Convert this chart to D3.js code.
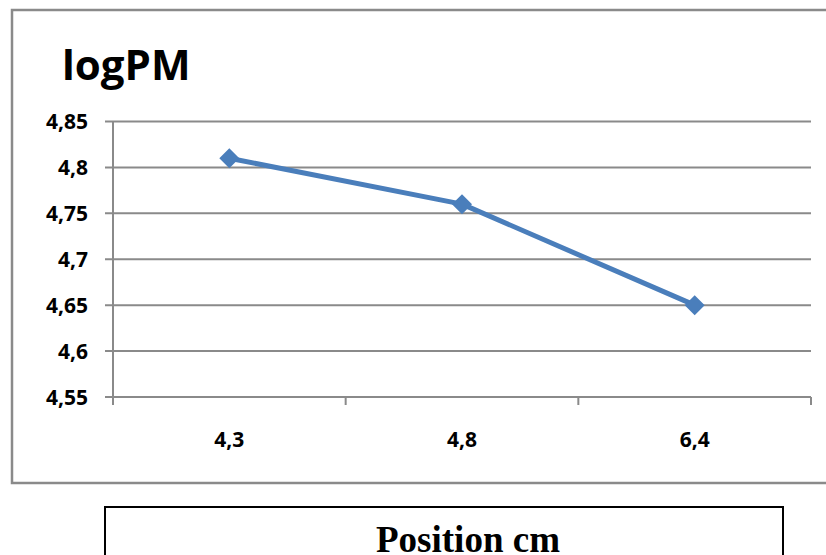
<!DOCTYPE html>
<html>
<head>
<meta charset="utf-8">
<script src="https://cdn.jsdelivr.net/npm/d3@7"></script>
<style>
  html, body { margin: 0; padding: 0; background: #fff; }
  svg { display: block; }
</style>
</head>
<body>
<svg id="chart" width="826" height="555"></svg>
<script>
const categories = ["4,3", "4,8", "6,4"];
const values = [4.81, 4.76, 4.65];
const yTicks = [4.55, 4.6, 4.65, 4.7, 4.75, 4.8, 4.85];
const yTickLabels = ["4,55", "4,6", "4,65", "4,7", "4,75", "4,8", "4,85"];
const titleText = "logPM";
const xTitleText = "Position cm";

const svg = d3.select("#chart");
const plot = { left: 113, right: 811, top: 121.5, bottom: 397 };
const gridColor = "#8a8a8a";
const lineColor = "#4a7ebb";
const sansFont = "'Open Sans', 'Liberation Sans', Arial, sans-serif";

// outer chart border
svg.append("rect")
  .attr("x", 12).attr("y", 10).attr("width", 840).attr("height", 473)
  .attr("fill", "none").attr("stroke", gridColor).attr("stroke-width", 2.5);

// title
svg.append("text")
  .attr("x", 62).attr("y", 80)
  .attr("font-family", sansFont)
  .attr("font-weight", "bold").attr("font-size", 42)
  .attr("fill", "#000").text(titleText);

const x = d3.scaleBand().domain(categories).range([plot.left, plot.right]).padding(0);
const y = d3.scaleLinear().domain([4.55, 4.85]).range([plot.bottom, plot.top]);

// gridlines
svg.append("g").selectAll("line").data(yTicks).join("line")
  .attr("x1", plot.left - 8).attr("x2", plot.right)
  .attr("y1", d => y(d)).attr("y2", d => y(d))
  .attr("stroke", gridColor).attr("stroke-width", 2);

// y axis line
svg.append("line")
  .attr("x1", plot.left).attr("x2", plot.left)
  .attr("y1", plot.top).attr("y2", plot.bottom + 8)
  .attr("stroke", gridColor).attr("stroke-width", 2);

// y labels
svg.append("g").selectAll("text").data(yTicks).join("text")
  .attr("x", 88).attr("y", d => y(d)).attr("dy", "0.36em")
  .attr("text-anchor", "end")
  .attr("font-family", sansFont)
  .attr("font-weight", "bold").attr("font-size", 21)
  .text((d, i) => yTickLabels[i]);

// x tick marks at band boundaries
const bounds = categories.map(c => x(c)).concat([x(categories[categories.length - 1]) + x.bandwidth()]);
svg.append("g").selectAll("line").data(bounds.slice(1)).join("line")
  .attr("x1", d => d).attr("x2", d => d)
  .attr("y1", plot.bottom).attr("y2", plot.bottom + 8)
  .attr("stroke", gridColor).attr("stroke-width", 2);

// x labels
svg.append("g").selectAll("text").data(categories).join("text")
  .attr("x", d => x(d) + x.bandwidth() / 2).attr("y", 447)
  .attr("text-anchor", "middle")
  .attr("font-family", sansFont)
  .attr("font-weight", "bold").attr("font-size", 21)
  .text(d => d);

// line
const line = d3.line()
  .x((d, i) => x(categories[i]) + x.bandwidth() / 2)
  .y(d => y(d));
svg.append("path").datum(values)
  .attr("d", line).attr("fill", "none")
  .attr("stroke", lineColor).attr("stroke-width", 5)
  .attr("stroke-linejoin", "round");

// diamond markers
const diamond = d3.symbol().type(d3.symbolSquare).size(200);
svg.append("g").selectAll("path").data(values).join("path")
  .attr("d", diamond)
  .attr("transform", (d, i) => `translate(${x(categories[i]) + x.bandwidth() / 2},${y(d)}) rotate(45)`)
  .attr("fill", lineColor);

// x axis title box
svg.append("rect")
  .attr("x", 105).attr("y", 507).attr("width", 678).attr("height", 80)
  .attr("fill", "none").attr("stroke", "#000").attr("stroke-width", 2);
svg.append("text")
  .attr("x", 468).attr("y", 552)
  .attr("text-anchor", "middle")
  .attr("font-family", "'Liberation Serif', 'Times New Roman', serif")
  .attr("font-weight", "bold").attr("font-size", 37)
  .text(xTitleText);
</script>
</body>
</html>
